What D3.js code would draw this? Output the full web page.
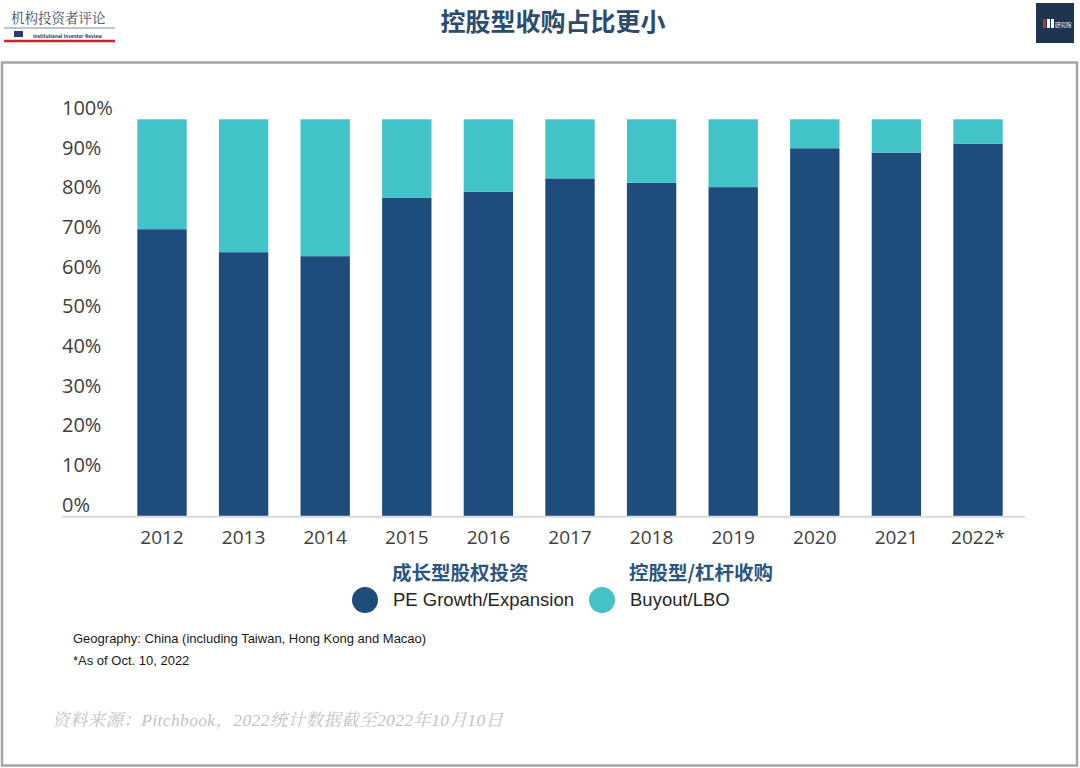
<!DOCTYPE html>
<html>
<head>
<meta charset="utf-8">
<script src="https://cdn.jsdelivr.net/npm/d3@7"></script>
<style>
  body { margin: 0; background: #fff; }
  svg { display: block; }
</style>
</head>
<body>
<svg width="1080" height="768"></svg>
<script>
// Chart data (percent of deal count)
const years = ["2012", "2013", "2014", "2015", "2016", "2017", "2018", "2019", "2020", "2021", "2022*"];
const growth = [72.3, 66.5, 65.5, 80.2, 81.7, 85.1, 84.0, 82.9, 92.7, 91.6, 93.8];
const buyout = [27.7, 33.5, 34.5, 19.8, 18.3, 14.9, 16.0, 17.1, 7.3, 8.4, 6.2];
const yTicks = [0, 10, 20, 30, 40, 50, 60, 70, 80, 90, 100];
const seriesKeys = ["growth", "buyout"];
const seriesNames = ["PE Growth/Expansion", "Buyout/LBO"];
const seriesNamesZh = ["成长型股权投资", "控股型/杠杆收购"];

const colors = { growth: "#1e4d7b", buyout: "#41c3c8" };

const svg = d3.select("svg");

// header
svg.append("text")
  .attr("x", 553).attr("y", 31)
  .attr("text-anchor", "middle")
  .attr("font-family", "'Noto Sans CJK SC', sans-serif")
  .attr("font-weight", "bold")
  .attr("font-size", 25)
  .attr("fill", "#2b4c6f")
  .text("控股型收购占比更小");

// left logo
const logo = svg.append("g");
logo.append("text")
  .attr("x", 11).attr("y", 23)
  .attr("font-family", "'Noto Serif CJK SC', 'DejaVu Serif', serif")
  .attr("font-size", 13.5)
  .attr("fill", "#3b4a68")
  .text("机构投资者评论");
logo.append("line").attr("x1", 4).attr("x2", 115).attr("y1", 28).attr("y2", 28)
  .attr("stroke", "#7d8aa3").attr("stroke-width", 1);
logo.append("rect").attr("x", 14).attr("y", 31).attr("width", 9).attr("height", 6).attr("fill", "#2c3e66");
logo.append("text")
  .attr("x", 33).attr("y", 37.5)
  .attr("font-family", "'DejaVu Sans Condensed', 'Liberation Sans Narrow', sans-serif")
  .attr("font-weight", "bold")
  .attr("font-size", 5.2)
  .attr("textLength", 69)
  .attr("lengthAdjust", "spacingAndGlyphs")
  .attr("fill", "#2c3e66")
  .text("Institutional Investor Review");
logo.append("line").attr("x1", 4).attr("x2", 115).attr("y1", 41).attr("y2", 41)
  .attr("stroke", "#c4262e").attr("stroke-width", 2.5);

// right logo
const rl = svg.append("g");
rl.append("rect").attr("x", 1036).attr("y", 3).attr("width", 38).attr("height", 40).attr("fill", "#1e3551");
rl.append("rect").attr("x", 1043).attr("y", 19).attr("width", 3).attr("height", 9).attr("fill", "#d0282e");
rl.append("rect").attr("x", 1047).attr("y", 19).attr("width", 3).attr("height", 9).attr("fill", "#fff");
rl.append("rect").attr("x", 1051).attr("y", 19).attr("width", 3).attr("height", 9).attr("fill", "#fff");
rl.append("text")
  .attr("x", 1055).attr("y", 27)
  .attr("font-family", "'Noto Sans CJK SC', sans-serif")
  .attr("font-size", 5.5)
  .attr("fill", "#fff")
  .text("研究院");

// frame
svg.append("rect")
  .attr("x", 2).attr("y", 62.5).attr("width", 1075).attr("height", 703)
  .attr("fill", "none").attr("stroke", "#a6a6a6").attr("stroke-width", 2.5);

// scales
const x = d3.scaleBand()
  .domain(years)
  .range([121.2, 1018.8])
  .paddingInner(0.395)
  .paddingOuter(0.1975);

const y = d3.scaleLinear().domain([0, 100]).range([516, 119.3]);

const table = years.map((yr, i) => ({ year: yr, growth: growth[i], buyout: buyout[i] }));
const stacked = d3.stack().keys(seriesKeys)(table);

// bars
svg.append("g")
  .selectAll("g")
  .data(stacked)
  .join("g")
  .attr("fill", d => colors[d.key])
  .selectAll("rect")
  .data(d => d)
  .join("rect")
  .attr("x", d => x(d.data.year))
  .attr("y", d => y(d[1]))
  .attr("width", x.bandwidth())
  .attr("height", d => y(d[0]) - y(d[1]));

// baseline
svg.append("line")
  .attr("x1", 62).attr("x2", 1025)
  .attr("y1", y(0) + 0.8).attr("y2", y(0) + 0.8)
  .attr("stroke", "#d9d9d9").attr("stroke-width", 2);

// y axis (labels sit a little above their gridline, as in the source)
const yAxis = svg.append("g")
  .attr("transform", "translate(62,0)")
  .call(d3.axisLeft(y).tickValues(yTicks).tickSize(0).tickPadding(0).tickFormat(d => d + "%"));
yAxis.select(".domain").remove();
yAxis.selectAll("text")
  .attr("x", 0)
  .attr("dy", "0.35em")
  .attr("transform", "translate(0,-11.7)")
  .attr("text-anchor", "start")
  .attr("font-family", "'Open Sans', sans-serif")
  .attr("font-size", 20)
  .attr("fill", "#404040");

// x axis
const xAxis = svg.append("g")
  .attr("transform", `translate(0,${y(0)})`)
  .call(d3.axisBottom(x).tickSize(0).tickPadding(0));
xAxis.select(".domain").remove();
xAxis.selectAll("text")
  .attr("y", 21)
  .attr("dy", "0.35em")
  .attr("font-family", "'Open Sans', sans-serif")
  .attr("font-size", 19)
  .attr("fill", "#404040");

// legend
const legendX = [365, 602];
const legend = svg.append("g")
  .selectAll("g")
  .data(seriesKeys)
  .join("g")
  .attr("transform", (d, i) => `translate(${legendX[i]},600)`);
legend.append("circle").attr("r", 13).attr("fill", d => colors[d]);
legend.append("text")
  .attr("x", 27).attr("y", -27)
  .attr("dy", "0.35em")
  .attr("font-family", "'Noto Sans CJK SC', sans-serif")
  .attr("font-weight", "bold")
  .attr("font-size", 19.5)
  .attr("fill", "#2c5582")
  .text((d, i) => seriesNamesZh[i]);
legend.append("text")
  .attr("x", 28).attr("y", 0)
  .attr("dy", "0.35em")
  .attr("font-family", "'Liberation Sans', Arial, sans-serif")
  .attr("font-size", 18.5)
  .attr("fill", "#262626")
  .text((d, i) => seriesNames[i]);

// notes
const notes = ["Geography: China (including Taiwan, Hong Kong and Macao)", "*As of Oct. 10, 2022"];
svg.append("g")
  .selectAll("text")
  .data(notes)
  .join("text")
  .attr("x", 73)
  .attr("y", (d, i) => 638 + i * 22)
  .attr("dy", "0.35em")
  .attr("font-family", "'Liberation Sans', Arial, sans-serif")
  .attr("font-size", 13)
  .attr("fill", "#1a1a1a")
  .text(d => d);

svg.append("text")
  .attr("x", 52).attr("y", 720)
  .attr("dy", "0.35em")
  .attr("font-family", "'Liberation Serif', 'Noto Serif CJK SC', serif")
  .attr("font-style", "italic")
  .attr("font-size", 17.5)
  .attr("textLength", 451)
  .attr("lengthAdjust", "spacing")
  .attr("fill", "#c3c3c3")
  .text("资料来源：Pitchbook，2022统计数据截至2022年10月10日");
</script>
</body>
</html>
